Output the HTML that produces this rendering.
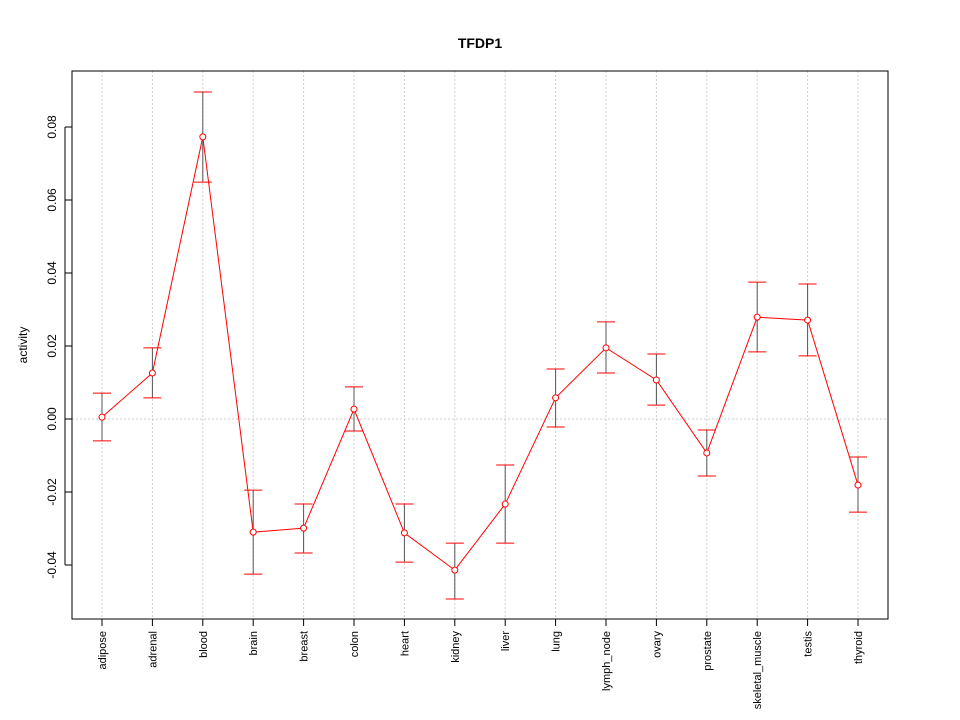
<!DOCTYPE html>
<html><head><meta charset="utf-8"><style>body{margin:0;background:#fff}svg{display:block}text{font-family:"Liberation Sans",sans-serif}</style></head>
<body>
<svg id="c" width="960" height="720"></svg>
<script>
const categories=["adipose","adrenal","blood","brain","breast","colon","heart","kidney","liver","lung","lymph_node","ovary","prostate","skeletal_muscle","testis","thyroid"];
const values=[0.0005,0.0126,0.0773,-0.031,-0.0299,0.0027,-0.0312,-0.0414,-0.0233,0.0058,0.0195,0.0107,-0.0093,0.0279,0.0271,-0.0181];
const upper=[0.0071,0.0195,0.0896,-0.0195,-0.0233,0.0088,-0.0233,-0.034,-0.0126,0.0137,0.0266,0.0178,-0.003,0.0375,0.037,-0.0104];
const lower=[-0.006,0.0058,0.0649,-0.0425,-0.0367,-0.0033,-0.0392,-0.0493,-0.034,-0.0022,0.0126,0.0038,-0.0156,0.0184,0.0173,-0.0255];
const yTicks=[-0.04,-0.02,0,0.02,0.04,0.06,0.08];
const yTickLabels=["-0.04","-0.02","0.00","0.02","0.04","0.06","0.08"];
const svg=document.getElementById('c');const NS="http://www.w3.org/2000/svg";
function y(v){return 419-v*3650;}
function x(i){return 102+i*50.4;}
function mk(t,a,p){const e=document.createElementNS(NS,t);for(const k in a)e.setAttribute(k,a[k]);(p||svg).appendChild(e);return e;}
let e;
e=mk('text',{x:480,y:48,'text-anchor':'middle','font-size':14,'font-weight':'bold'});e.textContent="TFDP1";


categories.forEach((c,i)=>{
 e=mk('line',{x1:x(i),x2:x(i),y1:71,y2:619,stroke:'#ccc','stroke-dasharray':'2,2'});
 
 
 e=mk('line',{x1:x(i),x2:x(i),y1:619,y2:626,stroke:'#000'});
 
 
 e=mk('text',{transform:`translate(${x(i)+4},631) rotate(-90)`,'text-anchor':'end','font-size':11});e.textContent=c;
 
 
});
e=mk('line',{x1:72,x2:888,y1:y(0),y2:y(0),stroke:'#ccc','stroke-dasharray':'2,2'});


yTicks.forEach((t,i)=>{
 e=mk('line',{x1:65,x2:72,y1:y(t),y2:y(t),stroke:'#000'});
 
 
 e=mk('text',{transform:`translate(56,${y(t)}) rotate(-90)`,'text-anchor':'middle','font-size':12});e.textContent=yTickLabels[i];
 
 
});
e=mk('line',{x1:65,x2:65,y1:y(-0.04),y2:y(0.08),stroke:'#000'});


e=mk('text',{transform:'translate(27,345) rotate(-90)','text-anchor':'middle','font-size':12});e.textContent="activity";


categories.forEach((c,i)=>{
 e=mk('line',{x1:x(i),x2:x(i),y1:y(upper[i]),y2:y(lower[i]),stroke:'#555'});
 
 
 [upper[i],lower[i]].forEach(v=>{e=mk('line',{x1:x(i)-9,x2:x(i)+9,y1:y(v),y2:y(v),stroke:'red'});
 
 });
});
e=mk('polyline',{points:values.map((v,i)=>x(i)+','+y(v)).join(' '),fill:'none',stroke:'red'});


values.forEach((v,i)=>{e=mk('circle',{cx:x(i),cy:y(v),r:3,fill:'#fff',stroke:'red'});
 
 });
e=mk('rect',{x:72,y:71,width:816,height:548,fill:'none',stroke:'#000'});


</script>
</body></html>
